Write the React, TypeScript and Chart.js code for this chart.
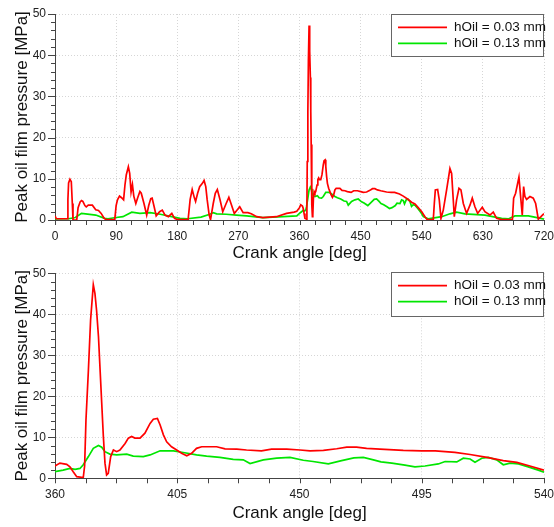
import React, { useEffect, useRef } from 'react';
import { Chart, registerables } from 'chart.js';

Chart.register(...registerables);

// ---- data (crank angle [deg] / peak oil film pressure [MPa]) ----
const redAngles = [
  0, 2, 18, 19, 20, 22, 24, 25.5, 26.5, 32,
  34, 37, 39, 41, 44, 46, 49, 55, 60, 64,
  68, 72, 75, 88, 90, 92, 95, 98, 101, 103,
  105, 108, 110, 112, 114, 116, 119, 122, 125, 127,
  131, 135, 138, 141, 143, 146, 149, 154, 158, 162,
  167, 172, 176, 180, 196, 199, 202, 205, 207, 210,
  213, 217, 219.5, 222, 224, 227, 229, 233, 236, 239,
  243, 247, 252, 256, 260, 264, 267, 272, 277, 284,
  289, 297, 306, 326, 341, 352, 356, 360, 361.8, 364.3,
  365.5, 366.7, 368, 370.4, 370.9, 371.4, 372.3, 373.1, 374.1, 374.7,
  375.3, 376, 376.6, 377.2, 377.8, 378.4, 379, 379.6, 380.5, 381.5,
  382.7, 383.9, 385.8, 387, 388.2, 389.4, 391.3, 393.1, 395, 396.2,
  397.7, 398.7, 399.9, 401.1, 402.9, 404.8, 406.6, 408.5, 410.3, 412.1,
  414, 419.5, 422.6, 426.9, 430.5, 436, 439.7, 445.3, 450.2, 453.9,
  458.8, 463.7, 467.4, 471, 474.7, 479.6, 488.2, 495, 500, 507.2,
  512.8, 519, 525, 530, 534.8, 540, 544.7, 548, 557, 558.5,
  560, 563.4, 565.8, 568.3, 571.7, 576.6, 581.5, 584, 586.4, 587.9,
  591.3, 594.8, 597.7, 601.2, 606, 611, 614.4, 618.3, 622.3, 629.1,
  633, 640.4, 645.3, 650.2, 657.6, 673.5, 675.3, 678.2, 683.1, 686,
  688, 690, 691.9, 694.4, 699.3, 704.2, 707.7, 711.6, 715.5, 719,
  720,
];
const redPressure = [
  1.0, 0.3, 0.3, 5.0, 9.0, 9.9, 9.3, 4.0, 0.0, 0.0,
  3.0, 4.4, 4.7, 4.5, 3.5, 3.2, 3.6, 3.6, 2.5, 2.3,
  1.6, 0.5, 0.1, 0.1, 3.5, 4.9, 5.8, 5.4, 4.9, 8.5,
  11.0, 12.9, 11.3, 6.8, 8.6, 5.8, 4.0, 5.5, 6.9, 6.5,
  4.0, 1.2, 3.5, 5.2, 5.3, 3.2, 1.0, 2.0, 2.4, 1.2,
  0.8, 1.6, 0.4, 0.1, 0.1, 5.0, 7.4, 5.5, 4.5, 6.5,
  8.1, 8.9, 9.6, 8.1, 5.0, 1.2, 0.1, 4.0, 6.5, 7.4,
  4.9, 2.0, 4.0, 5.5, 3.6, 1.6, 2.2, 3.2, 1.8, 1.8,
  1.5, 0.8, 0.6, 0.8, 1.6, 1.9, 2.1, 3.0, 3.7, 3.4,
  2.8, 1.6, 0.4, 0.2, 3.0, 14.2, 26.4, 38.6, 47.2, 45.1,
  41.0, 34.6, 26.4, 18.3, 10.2, 3.7, 0.8, 1.2, 5.3, 6.9,
  6.5, 6.9, 8.5, 9.8, 10.2, 9.8, 9.8, 11.0, 13.4, 14.4,
  14.6, 13.0, 10.6, 8.9, 7.7, 6.9, 6.1, 5.5, 6.1, 7.3,
  7.7, 7.7, 7.2, 7.1, 6.9, 6.7, 7.1, 7.1, 6.9, 6.7,
  6.8, 7.2, 7.6, 7.6, 7.3, 7.1, 6.8, 6.7, 6.7, 6.3,
  5.8, 5.1, 4.3, 3.9, 3.0, 2.0, 0.8, 0.1, 0.1, 4.0,
  7.3, 7.4, 4.9, 0.4, 2.4, 7.3, 12.5, 11.3, 4.9, 0.8,
  4.9, 7.7, 7.3, 4.0, 1.6, 3.6, 5.3, 3.2, 1.6, 3.1,
  2.0, 1.2, 1.9, 0.4, 0.1, 0.1, 5.3, 6.5, 10.4, 4.9,
  1.2, 8.1, 5.7, 5.0, 5.7, 5.3, 4.0, 0.2, 0.8, 1.4,
  1.2,
];
const greenAngles = [
  0, 20, 30, 39, 45, 60, 73, 78, 90, 100,
  113, 125, 140, 155, 170, 184, 195, 215, 228, 233,
  238, 252, 267, 282, 306, 336, 356, 360, 363, 365.5,
  367.4, 369.2, 370.4, 372.3, 374.1, 376, 377.2, 378.4, 380.2, 382.7,
  386.4, 388.8, 392.5, 395, 398.7, 403.6, 407.2, 412.1, 415.8, 420.7,
  425.6, 429.3, 431.8, 436.7, 441.6, 446.5, 451.4, 455, 460.6, 465.5,
  470, 473.5, 477.2, 480, 484, 488.8, 492.5, 496.2, 501.1, 503.6,
  507.9, 510.3, 512.8, 514.6, 517.1, 519.5, 522.6, 525, 527.5, 530.6,
  534.2, 537.9, 540, 542.3, 549.6, 569.3, 581.5, 591.3, 603.6, 633,
  657.6, 667.4, 677.2, 696.9, 711.6, 720,
];
const greenPressure = [
  0.25, 0.3, 0.6, 1.6, 1.5, 1.2, 0.4, 0.3, 0.6, 0.8,
  1.9, 1.6, 1.8, 1.4, 0.9, 0.4, 0.3, 0.7, 1.4, 1.8,
  1.5, 1.4, 1.2, 1.0, 0.6, 0.8, 1.0, 1.6, 2.0, 2.4,
  2.2, 2.4, 3.3, 5.3, 7.3, 8.0, 7.6, 6.5, 5.9, 5.7,
  5.9, 5.4, 5.3, 5.7, 6.7, 6.7, 6.3, 5.7, 5.4, 5.1,
  4.6, 4.5, 3.6, 4.5, 4.9, 5.1, 4.4, 4.1, 3.5, 4.3,
  5.0, 5.1, 4.5, 4.0, 3.7, 3.2, 2.8, 3.0, 3.5, 4.1,
  4.0, 4.9, 4.7, 3.9, 4.9, 5.1, 4.5, 3.3, 3.7, 3.5,
  2.8, 2.0, 1.5, 0.8, 0.3, 0.8, 1.5, 1.9, 1.5, 1.2,
  0.4, 0.25, 1.0, 1.0, 0.5, 0.2,
];

const seriesLabels = ['hOil = 0.03 mm', 'hOil = 0.13 mm'];
const seriesColors = ['#ff0000', '#00e600'];

const yTickValues = [0, 10, 20, 30, 40, 50];
const topXTickValues = [0, 90, 180, 270, 360, 450, 540, 630, 720];
const bottomXTickValues = [360, 405, 450, 495, 540];

const xTitle = 'Crank angle [deg]';
const yTitle = 'Peak oil film pressure [MPa]';

const FONT = '"Liberation Sans", Arial, Helvetica, sans-serif';
const AXIS_COLOR = '#444';

// ---- plugins ----
const minorTicksPlugin = {
  id: 'minorTicks',
  afterDraw(chart: any, _args: any, opts: any) {
    const { ctx, chartArea } = chart;
    const xs = chart.scales.x;
    const ys = chart.scales.y;
    ctx.save();
    ctx.strokeStyle = AXIS_COLOR;
    ctx.lineWidth = 1;
    ctx.beginPath();
    const nx = Math.round((xs.max - xs.min) / opts.xStep);
    for (let i = 0; i <= nx; i++) {
      const v = xs.min + i * opts.xStep;
      const px = Math.round(xs.getPixelForValue(v)) + 0.5;
      ctx.moveTo(px, chartArea.bottom);
      ctx.lineTo(px, chartArea.bottom + opts.xLen);
    }
    const ny = Math.round((ys.max - ys.min) / opts.yStep);
    for (let i = 0; i <= ny; i++) {
      const v = ys.min + i * opts.yStep;
      const major = Math.abs(v / opts.yMajor - Math.round(v / opts.yMajor)) < 1e-6;
      const py = Math.round(ys.getPixelForValue(v)) + 0.5;
      const len = major ? opts.yMajorLen : opts.yMinorLen;
      ctx.moveTo(chartArea.left, py);
      ctx.lineTo(chartArea.left - len, py);
    }
    ctx.stroke();
    ctx.restore();
  },
};

const boxLegendPlugin = {
  id: 'boxLegend',
  afterDraw(chart: any, _args: any, opts: any) {
    const { ctx, chartArea } = chart;
    const w = 153;
    const h = opts.h;
    const x = chartArea.right - w;
    const y = chartArea.top + opts.dy;
    ctx.save();
    ctx.fillStyle = '#ffffff';
    ctx.fillRect(x, y, w, h);
    ctx.strokeStyle = '#666';
    ctx.lineWidth = 1;
    ctx.strokeRect(Math.round(x) + 0.5, Math.round(y) + 0.5, w - 1, h - 1);
    ctx.font = '13.5px ' + FONT;
    ctx.textBaseline = 'middle';
    ctx.textAlign = 'left';
    chart.data.datasets.forEach((ds: any, i: number) => {
      const ly = y + opts.first + i * 16;
      ctx.strokeStyle = ds.borderColor;
      ctx.lineWidth = 1.7;
      ctx.beginPath();
      ctx.moveTo(x + 7, ly);
      ctx.lineTo(x + 56, ly);
      ctx.stroke();
      ctx.fillStyle = '#111';
      ctx.fillText(ds.label, x + 63, ly);
    });
    ctx.restore();
  },
};

function buildData() {
  return {
    datasets: [
      {
        label: seriesLabels[0],
        data: redAngles.map((a, i) => ({ x: a, y: redPressure[i] })),
        borderColor: seriesColors[0],
        borderWidth: 1.7,
        pointRadius: 0,
        tension: 0,
        fill: false,
      },
      {
        label: seriesLabels[1],
        data: greenAngles.map((a, i) => ({ x: a, y: greenPressure[i] })),
        borderColor: seriesColors[1],
        borderWidth: 1.7,
        pointRadius: 0,
        tension: 0,
        fill: false,
      },
    ],
  };
}

function buildOptions(cfg: {
  xMin: number; xMax: number; xTicks: number[]; xMinor: number;
  padTop: number; xAxisH: number; titlePadBottom: number; legendDy: number; legendH: number; legendFirst: number;
}) {
  return {
    animation: false,
    responsive: false,
    maintainAspectRatio: false,
    events: [],
    layout: { padding: { top: cfg.padTop, right: 10, left: 0, bottom: 0 } },
    plugins: {
      legend: { display: false },
      tooltip: { enabled: false },
      minorTicks: { xStep: cfg.xMinor, xLen: 5, yStep: 2, yMajor: 10, yMajorLen: 7, yMinorLen: 4 },
      boxLegend: { dy: cfg.legendDy, h: cfg.legendH, first: cfg.legendFirst },
    },
    scales: {
      x: {
        type: 'linear',
        min: cfg.xMin,
        max: cfg.xMax,
        afterBuildTicks: (s: any) => { s.ticks = cfg.xTicks.map((v) => ({ value: v })); },
        afterFit: (s: any) => { s.height = cfg.xAxisH; s.paddingLeft = 0; s.paddingRight = 0; },
        grid: { color: '#d6d6d6', lineWidth: 1, tickLength: 5, tickColor: 'rgba(0,0,0,0)' },
        border: { color: AXIS_COLOR, width: 1, dash: [1, 2] },
        ticks: { font: { family: FONT, size: 12 }, color: '#222', padding: 4, maxRotation: 0, autoSkip: false },
        title: { display: true, text: xTitle, font: { family: FONT, size: 17 }, color: '#111', padding: { top: 0, bottom: cfg.titlePadBottom } },
      },
      y: {
        type: 'linear',
        min: 0,
        max: 50,
        afterBuildTicks: (s: any) => { s.ticks = yTickValues.map((v) => ({ value: v })); },
        afterFit: (s: any) => { s.width = 55; s.paddingTop = 0; s.paddingBottom = 0; },
        grid: { color: '#d6d6d6', lineWidth: 1, tickLength: 7, tickColor: 'rgba(0,0,0,0)' },
        border: { color: AXIS_COLOR, width: 1, dash: [1, 2] },
        ticks: { font: { family: FONT, size: 12 }, color: '#222', padding: 2 },
        title: { display: true, text: yTitle, font: { family: FONT, size: 17 }, color: '#111', padding: { top: 12, bottom: 0 } },
      },
    },
  };
}

function PressureChart(props: { width: number; height: number; cfg: any }) {
  const ref = useRef<HTMLCanvasElement | null>(null);
  useEffect(() => {
    if (!ref.current) return;
    const chart = new Chart(ref.current, {
      type: 'line',
      data: buildData() as any,
      options: buildOptions(props.cfg) as any,
      plugins: [minorTicksPlugin, boxLegendPlugin] as any,
    });
    return () => chart.destroy();
  }, []);
  return <canvas ref={ref} width={props.width} height={props.height} style={{ display: 'block', width: props.width, height: props.height }} />;
}

export default function App() {
  const topCfg = {
    xMin: 0, xMax: 720, xTicks: topXTickValues, xMinor: 22.5,
    padTop: 14, xAxisH: 44, titlePadBottom: 0, legendDy: 0, legendH: 43, legendFirst: 13.3,
  };
  const bottomCfg = {
    xMin: 360, xMax: 540, xTicks: bottomXTickValues, xMinor: 11.25,
    padTop: 9.3, xAxisH: 48.7, titlePadBottom: 3.8, legendDy: -1.6, legendH: 45, legendFirst: 14,
  };
  return (
    <div style={{ position: 'absolute', left: 0, top: 0, width: 554, height: 527, background: '#fff' }}>
      <PressureChart width={554} height={264} cfg={topCfg} />
      <PressureChart width={554} height={263} cfg={bottomCfg} />
    </div>
  );
}
